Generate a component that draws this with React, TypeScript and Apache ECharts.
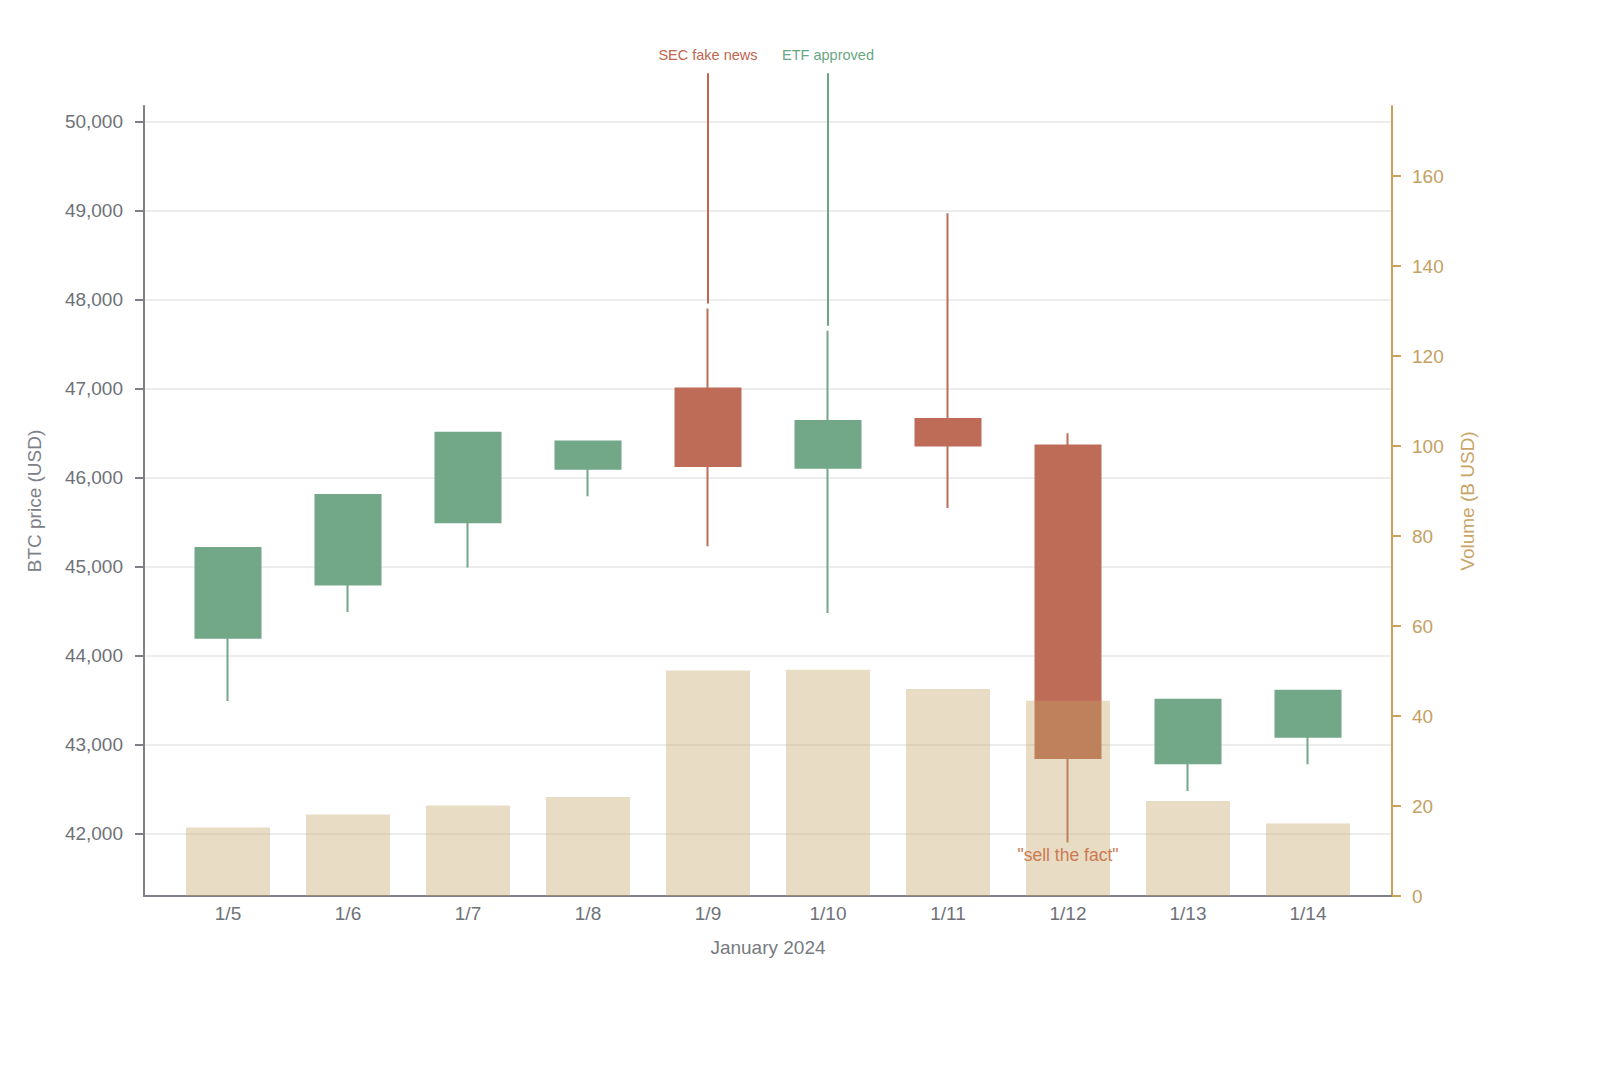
import React, { useEffect, useRef } from "react";
import * as echarts from "echarts";

const days = ["1/5", "1/6", "1/7", "1/8", "1/9", "1/10", "1/11", "1/12", "1/13", "1/14"];
const openPrices = [44200, 44800, 45500, 46100, 47000, 46110, 46660, 46360, 42790, 43090];
const closePrices = [45210, 45805, 46505, 46405, 46130, 46635, 46360, 42850, 43505, 43605];
const lowPrices = [43490, 44490, 44990, 45790, 45230, 44480, 45660, 41900, 42480, 42780];
const highPrices = [45210, 45805, 46505, 46405, 47900, 47650, 48970, 46500, 43505, 43605];
const volumes = [15.2, 18.1, 20.1, 22.0, 50.1, 50.3, 46.0, 43.4, 21.1, 16.1];

const priceTicks = [42000, 43000, 44000, 45000, 46000, 47000, 48000, 49000, 50000];
const volumeTicks = [0, 20, 40, 60, 80, 100, 120, 140, 160];

// annotations: day index, line from / to (price), label
const noteDays = [4, 5, 7];
const noteFrom = [47955, 47705, 41900];
const noteTo = [50544, 50544, 41900];
const noteTexts = ["SEC fake news", "ETF approved", '"sell the fact"'];
const noteColors = ["#c0654f", "#6aa682", "#cb7a52"];
const noteBelow = [false, false, true];

const UP = "#72a888";
const DOWN = "#be6c58";
const FONT = "'Liberation Sans', Arial, Helvetica, sans-serif";

const App: React.FC = () => {
  const chartRef = useRef<HTMLDivElement>(null);

  useEffect(() => {
    const chart = echarts.init(chartRef.current!, undefined, { renderer: "svg" });

    const option: echarts.EChartsOption = {
      animation: false,
      textStyle: { fontFamily: FONT },
      grid: { left: 136, top: 98, width: 1248, height: 790 },
      xAxis: {
        type: "value",
        min: -0.7,
        max: 9.7,
        name: "January 2024",
        nameLocation: "middle",
        nameGap: 42,
        nameTextStyle: { fontSize: 19, color: "#777b81" },
        axisLine: { onZero: false, lineStyle: { color: "#7d8086", width: 2 } },
        axisTick: { show: false },
        splitLine: { show: false },
        axisLabel: {
          customValues: days.map((_, i) => i),
          formatter: (v: number) => days[Math.round(v)] ?? "",
          fontSize: 19,
          color: "#6e7278",
          margin: 8,
        },
      },
      yAxis: [
        {
          type: "value",
          position: "left",
          min: 41300,
          max: 50175,
          name: "BTC price (USD)",
          nameLocation: "middle",
          nameGap: 100,
          nameTextStyle: { fontSize: 19, color: "#7c8086" },
          axisLine: { show: true, onZero: false, lineStyle: { color: "#7d8086", width: 2 } },
          axisTick: {
            show: true,
            length: 9,
            customValues: priceTicks,
            lineStyle: { color: "#7d8086", width: 2 },
          },
          axisLabel: {
            customValues: priceTicks,
            formatter: (v: number) => v.toLocaleString("en-US"),
            fontSize: 19,
            color: "#6e7278",
            margin: 21,
          },
          splitLine: { show: true, lineStyle: { color: "#e7e7e7", width: 1.5 } },
        },
        {
          type: "value",
          position: "right",
          min: 0,
          max: 175.6,
          name: "Volume (B USD)",
          nameLocation: "middle",
          nameGap: 66,
          nameTextStyle: { fontSize: 19, color: "#c9a466" },
          axisLine: { show: true, onZero: false, lineStyle: { color: "#c9a257", width: 2 } },
          axisTick: {
            show: true,
            length: 9,
            customValues: volumeTicks,
            lineStyle: { color: "#c9a257", width: 2 },
          },
          axisLabel: {
            customValues: volumeTicks,
            fontSize: 19,
            color: "#c4a062",
            margin: 20,
          },
          splitLine: { show: false },
        },
      ],
      series: [
        {
          type: "candlestick",
          xAxisIndex: 0,
          yAxisIndex: 0,
          z: 2,
          barWidth: 65,
          itemStyle: {
            color: UP,
            color0: DOWN,
            borderColor: UP,
            borderColor0: DOWN,
            borderWidth: 2,
          },
          data: days.map((_, i) => [i, openPrices[i], closePrices[i], lowPrices[i], highPrices[i]]),
        },
        {
          type: "bar",
          xAxisIndex: 0,
          yAxisIndex: 1,
          z: 4,
          barWidth: 84,
          itemStyle: { color: "rgba(194,162,98,0.375)" },
          data: volumes.map((v, i) => [i, v]),
        },
        {
          type: "custom",
          xAxisIndex: 0,
          yAxisIndex: 0,
          z: 6,
          clip: false,
          renderItem: (params: any, api: any) => {
            const i = params.dataIndex;
            const p1 = api.coord([api.value(0), api.value(1)]);
            const p2 = api.coord([api.value(0), api.value(2)]);
            const below = noteBelow[i];
            const children: any[] = [];
            if (Math.abs(p1[1] - p2[1]) > 0.5) {
              children.push({
                type: "line",
                shape: { x1: p1[0], y1: p1[1], x2: p2[0], y2: p2[1] },
                style: { stroke: noteColors[i], lineWidth: 2 },
              });
            }
            children.push({
              type: "text",
              x: p2[0],
              y: below ? p2[1] + 3 : p2[1] - 11,
              style: {
                text: noteTexts[i],
                fill: noteColors[i],
                font: `${below ? 17.5 : 14.5}px ${FONT}`,
                align: "center",
                verticalAlign: below ? "top" : "bottom",
              },
            });
            return { type: "group", children };
          },
          data: noteDays.map((d, i) => [d, noteFrom[i], noteTo[i]]),
        },
      ],
    };

    chart.setOption(option);
    return () => {
      chart.dispose();
    };
  }, []);

  return <div ref={chartRef} style={{ width: "1584px", height: "1051px" }} />;
};

export default App;
